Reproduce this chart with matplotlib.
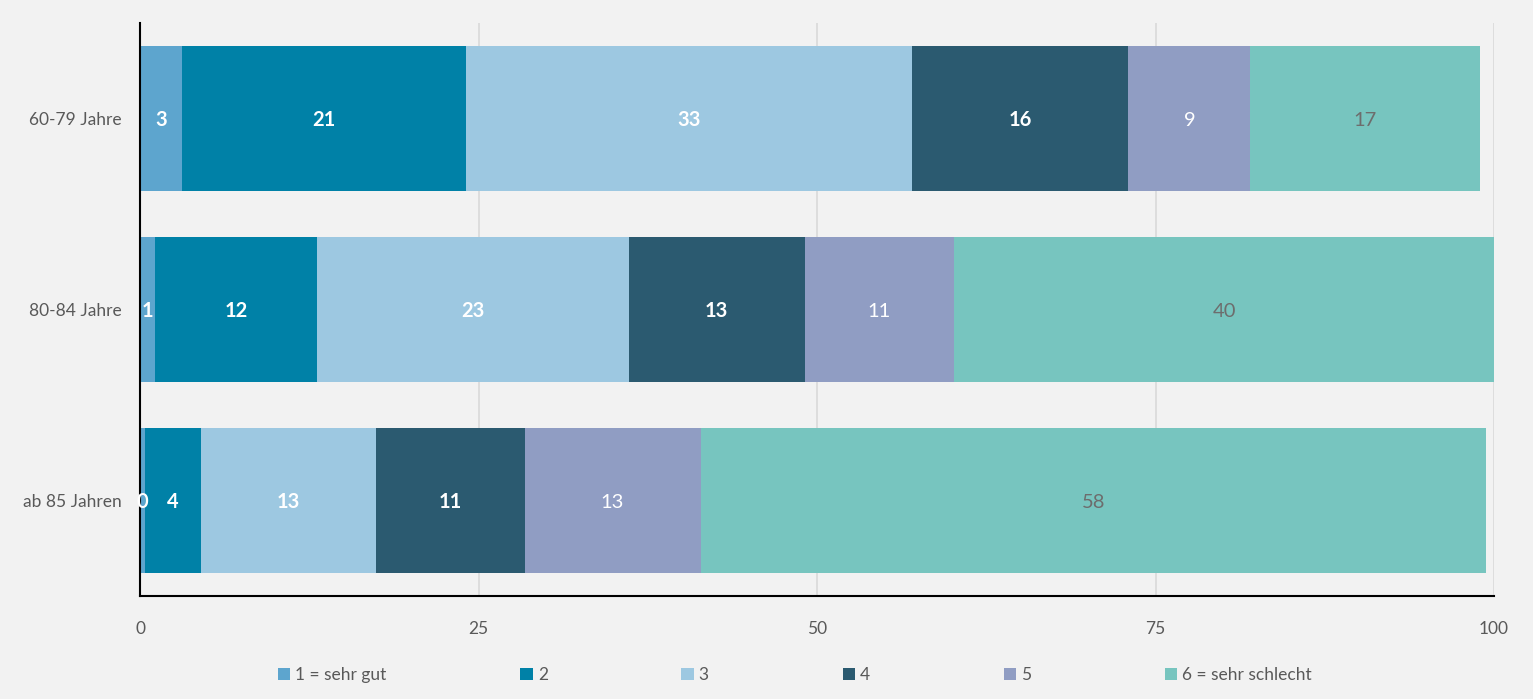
import matplotlib
matplotlib.use("Agg")
import matplotlib.pyplot as plt
import numpy as np

plt.rcParams['font.family'] = ['Lato', 'DejaVu Sans']

# data
groups = ["60-79 Jahre", "80-84 Jahre", "ab 85 Jahren"]
series = ["1 = sehr gut", "2", "3", "4", "5", "6 = sehr schlecht"]
v1 = [3.1, 1.1, 0.4]
v2 = [21.0, 12.0, 4.1]
v3 = [32.9, 23.0, 12.9]
v4 = [16.0, 13.0, 11.0]
v5 = [9.0, 11.0, 13.0]
v6 = [17.0, 40.0, 58.0]
xticks = [0, 25, 50, 75, 100]

colors = ["#5DA5CE", "#0081A7", "#9DC8E1", "#2B5A70", "#909DC3", "#77C5BF"]
label_colors = ["white", "white", "white", "white", "white", "#6D6D6D"]
label_weights = ["bold", "bold", "bold", "bold", "normal", "normal"]

bg = "#F2F2F2"
fig = plt.figure(figsize=(15.33, 6.99), dpi=100, facecolor=bg)
ax = fig.add_axes([140 / 1533, 1 - 596 / 699, (1494 - 140) / 1533, (596 - 23) / 699])
ax.set_facecolor(bg)

values = [v1, v2, v3, v4, v5, v6]
y = np.arange(len(groups))
left = np.zeros(len(groups))
for i, vals in enumerate(values):
    vals = np.array(vals)
    bars = ax.barh(y, vals, left=left, height=0.76, color=colors[i],
                   label=series[i], zorder=3)
    for j, b in enumerate(bars):
        ax.text(left[j] + vals[j] / 2, y[j] + 0.01, f"{round(vals[j]):d}",
                ha="center", va="center", color=label_colors[i],
                fontsize=14.5, fontweight=label_weights[i], zorder=6)
    left += vals

ax.set_xlim(0, 100)
ax.set_ylim(2.5, -0.5)
ax.set_xticks(xticks)
ax.set_xticklabels([str(t) for t in xticks])
ax.set_yticks(y)
ax.set_yticklabels(groups)
ax.tick_params(axis="both", length=0, labelsize=12.5, labelcolor="#595959")
ax.tick_params(axis="x", pad=18)
ax.tick_params(axis="y", pad=13)
ax.grid(axis="x", color="#D9D9D9", linewidth=1.2, zorder=0)

for s in ["top", "right"]:
    ax.spines[s].set_visible(False)
for s in ["left", "bottom"]:
    ax.spines[s].set_color("black")
    ax.spines[s].set_linewidth(1.5)
    ax.spines[s].set_zorder(5)

leg = fig.legend(loc="center", bbox_to_anchor=(795 / 1533, 1 - 675 / 699),
                 ncol=6, frameon=False, fontsize=12.5, handlelength=0.7,
                 handleheight=0.7, handletextpad=0.3, columnspacing=7.7)
for t in leg.get_texts():
    t.set_color("#595959")

fig.savefig("out.png", dpi=100, facecolor=bg)
